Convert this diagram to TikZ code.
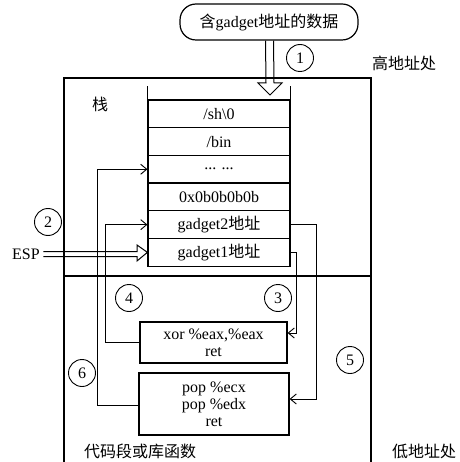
\documentclass[tikz,border=0pt]{standalone}
\usepackage{fontspec}
\setmainfont{Liberation Serif}
\newfontfamily\cjk{Noto Sans CJK SC}
\usetikzlibrary{arrows.meta}
\newcommand{\zh}[1]{{\cjk #1}}
\begin{document}
\begin{tikzpicture}[x=1pt,y=-1pt,
  every node/.style={font=\fontsize{16}{18}\selectfont},
  cell/.style={draw, line width=1.2pt, minimum width=142pt, minimum height=27.7pt, inner sep=0pt},
  num/.style={draw, circle, line width=0.9pt, minimum size=27pt, inner sep=0pt, font=\fontsize{16}{18}\selectfont},
  link/.style={line width=0.9pt, -{Straight Barb[length=6pt,width=10pt]}},
  codebox/.style={draw, line width=1.2pt, inner sep=0pt, align=center},
  frame/.style={line width=1.2pt},
  fat/.style={line width=1pt, line join=miter}]
\useasboundingbox (0,0) rectangle (459,462);

% data box
\node[draw, line width=1.2pt, rounded corners=16pt, minimum width=178pt, minimum height=36pt, inner sep=0pt] (data) at (269,22) {\zh{含}gadget\zh{地址的数据}};
\node[num] (c1) at (300,58) {1};
\node (hi) at (404,63) {\zh{高地址处}};

% outer frame
\draw[frame] (64,462) -- (64,78) -- (371,78) -- (371,462);
\draw[frame] (64,276) -- (371,276);
\node (stk) at (100,104) {\zh{栈}};

% stack cells
\node[cell] (r1) at (219,113.85) {/sh\textbackslash 0};
\node[cell] (r2) at (219,141.55) {/bin};
\node[cell] (r3) at (219,169.25) {... ...};
\node[cell] (r4) at (219,196.95) {0x0b0b0b0b};
\node[cell] (r5) at (219,224.65) {gadget2\zh{地址}};
\node[cell] (r6) at (219,252.35) {gadget1\zh{地址}};
\draw[frame] (r1.north west) -- ++(0,-13);
\draw[frame] (r1.north east) -- ++(0,-13);

% hollow arrow 1
\draw[fat] ([xshift=-3.5pt]data.south) -- (266,83) -- (258,83) -- (270,95) -- (282,83) -- (274,83) -- ([xshift=4.5pt]data.south);

% ESP
\node (esp) at (26,254) {ESP};
\node[num] (c2) at (48,222) {2};
\draw[fat] ([yshift=2.5pt]esp.east) -- (137,251.5) -- (137,245) -- (r6.west) -- (137,261) -- (137,256.5) -- ([yshift=-2.5pt]esp.east);

% code boxes
\node[codebox, minimum width=147pt, minimum height=41pt] (xor) at (213.5,342.5) {xor \%eax,\%eax\\[-1pt]ret};
\node[codebox, minimum width=150pt, minimum height=62pt] (pop) at (214,404) {pop \%ecx\\[-1pt]pop \%edx\\[-1pt]ret};

% connectors
\draw[link] (r6.east) -- ++(6,0) |- ([yshift=9.5pt]xor.east);
\draw[link] (r5.east) -- ++(26,0) |- ([yshift=5pt]pop.east);
\draw[link] (xor.west) -- ++(-34,0) |- (r5.west);
\draw[link] ([yshift=-1pt]pop.west) -- ++(-41,0) |- (r3.west);

\node[num] (c3) at (278,298) {3};
\node[num] (c4) at (129,298) {4};
\node[num] (c5) at (350,360) {5};
\node[num] (c6) at (82,373) {6};

\node (code) at (140,451) {\zh{代码段或库函数}};
\node (lo) at (424,451) {\zh{低地址处}};
\end{tikzpicture}
\end{document}
